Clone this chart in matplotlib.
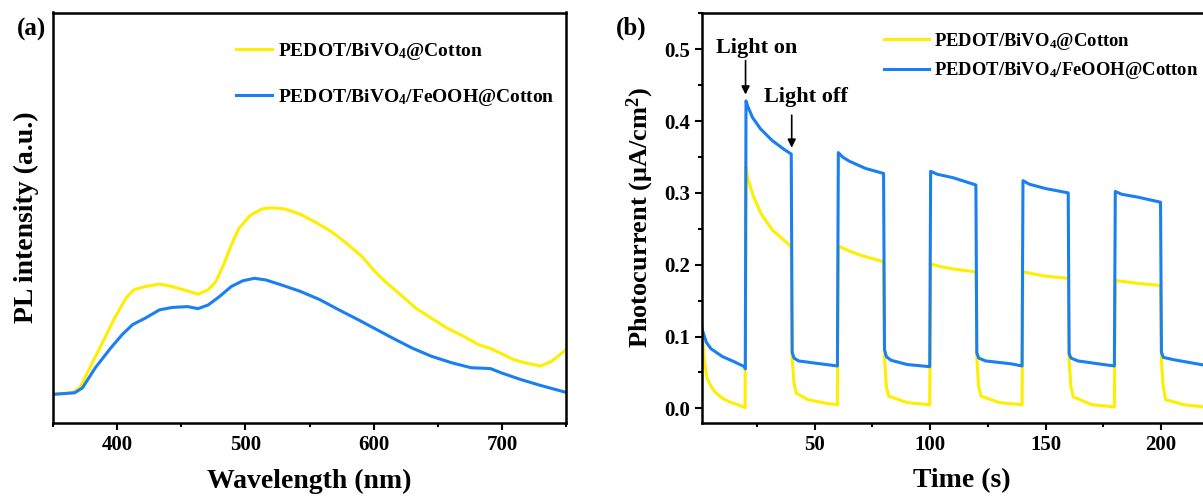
import numpy as np
import matplotlib
matplotlib.use("Agg")
import matplotlib.pyplot as plt
from matplotlib.ticker import MultipleLocator

plt.rcParams['font.family'] = ['Liberation Serif', 'DejaVu Serif']
plt.rcParams['font.weight'] = 'bold'
plt.rcParams['axes.labelweight'] = 'bold'
plt.rcParams['mathtext.fontset'] = 'custom'
plt.rcParams['mathtext.rm'] = 'Liberation Serif:bold'
plt.rcParams['mathtext.it'] = 'Liberation Serif:italic:bold'
plt.rcParams['mathtext.bf'] = 'Liberation Serif:bold'

YELLOW = '#ffee00'
BLUE = '#1a7ff0'

##### (a) PL spectra ##########################################################
wl_yellow = [350, 365, 371, 380, 389, 398, 407, 413, 422, 433, 443, 455, 463,
             471, 477, 483, 489, 495, 504, 513, 520, 531, 543, 555, 567, 579,
             591, 600, 609, 621, 633, 645, 657, 670, 682, 691, 700, 709, 718,
             730, 739, 750]
pl_yellow = [7.0, 7.3, 8.5, 14.2, 19.8, 25.5, 30.4, 32.4, 33.2, 33.8, 33.2,
             32.1, 31.3, 32.4, 34.4, 38.5, 43.3, 47.4, 50.6, 52.1, 52.4, 52.1,
             50.8, 48.8, 46.6, 43.7, 40.5, 37.2, 34.4, 31.2, 27.9, 25.5, 23.1,
             21.1, 19.0, 18.1, 16.8, 15.4, 14.6, 13.8, 15.0, 17.8]

wl_blue = [350, 367, 373, 383, 395, 404, 412, 422, 433, 443, 455, 463, 471,
           480, 489, 498, 507, 516, 528, 543, 558, 573, 588, 600, 615, 630,
           645, 661, 676, 691, 700, 715, 730, 750]
pl_blue = [6.9, 7.3, 8.5, 13.4, 18.2, 21.5, 23.9, 25.5, 27.5, 28.1, 28.3,
           27.8, 28.7, 30.8, 33.2, 34.6, 35.2, 34.8, 33.6, 32.0, 30.0, 27.5,
           25.1, 23.1, 20.6, 18.2, 16.2, 14.6, 13.4, 13.2, 12.1, 10.5, 9.1, 7.4]

##### (b) photocurrent ########################################################
t_yellow = [1.0, 2, 3.3, 5, 6.7, 10, 13, 16.7, 19.8,
            20.2, 21, 23.3, 26.7, 31.7, 36.7, 39.8,
            40.2, 41, 42, 47, 55, 59.8,
            60.2, 65, 70, 79.8,
            80.2, 81, 82, 90, 99.8,
            100.2, 105, 110, 119.8,
            120.2, 121, 122, 130, 139.8,
            140.2, 145, 150, 159.8,
            160.2, 161, 162, 170, 179.8,
            180.2, 185, 190, 199.8,
            200.2, 201, 202, 210, 219]
i_yellow = [0.12, 0.07, 0.042, 0.031, 0.023, 0.014, 0.009, 0.005, 0.001,
            0.336, 0.32, 0.296, 0.271, 0.248, 0.234, 0.225,
            0.07, 0.035, 0.021, 0.012, 0.007, 0.005,
            0.226, 0.219, 0.213, 0.204,
            0.07, 0.03, 0.017, 0.008, 0.005,
            0.201, 0.197, 0.194, 0.190,
            0.07, 0.03, 0.017, 0.008, 0.005,
            0.190, 0.187, 0.184, 0.181,
            0.065, 0.03, 0.016, 0.005, 0.002,
            0.178, 0.176, 0.174, 0.171,
            0.065, 0.03, 0.012, 0.005, 0.002]

t_blue = [1.0, 3, 5, 10, 15, 19.5, 19.9,
          20.2, 21, 23, 26.5, 31.5, 36.5, 39.8,
          40.2, 41, 43, 50, 59.8,
          60.2, 62, 65, 72, 79.8,
          80.2, 81, 83, 90, 99.8,
          100.2, 103, 110, 119.8,
          120.2, 121, 124, 135, 139.8,
          140.2, 143, 150, 159.8,
          160.2, 161, 164, 175, 179.8,
          180.2, 183, 190, 199.8,
          200.2, 201, 205, 212, 219]
i_blue = [0.112, 0.092, 0.083, 0.072, 0.065, 0.058, 0.055,
          0.428, 0.42, 0.405, 0.389, 0.373, 0.361, 0.354,
          0.078, 0.07, 0.066, 0.063, 0.059,
          0.356, 0.35, 0.344, 0.334, 0.327,
          0.082, 0.072, 0.067, 0.061, 0.058,
          0.330, 0.326, 0.321, 0.311,
          0.077, 0.070, 0.066, 0.062, 0.059,
          0.317, 0.312, 0.306, 0.300,
          0.076, 0.070, 0.066, 0.061, 0.059,
          0.302, 0.298, 0.294, 0.287,
          0.078, 0.071, 0.068, 0.064, 0.060]

label_y = 'PEDOT/BiVO$_4$@Cotton'
label_b = 'PEDOT/BiVO$_4$/FeOOH@Cotton'

W, H = 1203, 496
fig = plt.figure(figsize=(W / 100, H / 100), dpi=100)

def px_axes(left, top, right, bottom):
  return fig.add_axes([left / W, 1 - bottom / H, (right - left) / W,
                       (bottom - top) / H])

def style(ax):
  for s in ax.spines.values():
    s.set_linewidth(1.8)
  ax.tick_params(which='both', direction='out', width=1.5, labelsize=15,
                 top=False, right=False)
  ax.tick_params(which='major', length=5)
  ax.tick_params(which='minor', length=3)

# ---- panel (a)
ax1 = px_axes(53, 12.5, 566, 422.7)
ax1.plot(wl_yellow, pl_yellow, color=YELLOW, lw=2.2, label=label_y)
ax1.plot(wl_blue, pl_blue, color=BLUE, lw=2.2, label=label_b)
ax1.set_xlim(350, 750)
ax1.set_ylim(0, 100)
ax1.set_yticks([])
ax1.xaxis.set_major_locator(MultipleLocator(100))
ax1.xaxis.set_minor_locator(MultipleLocator(50))
style(ax1)
ax1.set_xlabel('Wavelength (nm)', fontsize=20, labelpad=10)
ax1.set_ylabel('PL intensity (a.u.)', fontsize=20, labelpad=10)
ax1.legend(loc='upper left', bbox_to_anchor=(236 / W, 1 - 41 / H),
           bbox_transform=fig.transFigure, frameon=False, fontsize=14,
           borderpad=0, borderaxespad=0, handlelength=1.85,
           handletextpad=0.3, labelspacing=1.3)
fig.text(32 / W, 1 - 29 / H, '(a)', fontsize=18, fontweight='bold',
         ha='center', va='center')

# ---- panel (b), right side is cut off by the figure edge as in the source
ax2 = px_axes(701.7, 13.3, 1221, 422.7)
ax2.plot(t_yellow, i_yellow, color=YELLOW, lw=2.2, label=label_y)
ax2.plot(t_blue, i_blue, color=BLUE, lw=2.2, label=label_b)
ax2.set_xlim(1, 226)
ax2.set_ylim(-0.02, 0.55)
ax2.xaxis.set_major_locator(MultipleLocator(50))
ax2.xaxis.set_minor_locator(MultipleLocator(25))
ax2.yaxis.set_major_locator(MultipleLocator(0.1))
ax2.yaxis.set_minor_locator(MultipleLocator(0.05))
ax2.yaxis.set_major_formatter(plt.FuncFormatter(lambda v, p: '%.1f' % v))
ax2.set_xticks([50, 100, 150, 200])
style(ax2)
ax2.set_xlabel('Time (s)', fontsize=20, labelpad=10)
ax2.set_ylabel('Photocurrent (\u03bcA/cm$^2$)', fontsize=19, labelpad=6)
ax2.legend(loc='upper left', bbox_to_anchor=(884 / W, 1 - 31 / H),
           bbox_transform=fig.transFigure, frameon=False, fontsize=13.4,
           borderpad=0, borderaxespad=0, handlelength=2.4,
           handletextpad=0.3, labelspacing=0.45)
fig.text(631 / W, 1 - 28 / H, '(b)', fontsize=18, fontweight='bold',
         ha='center', va='center')

ax2.text(25, 0.502, 'Light on', fontsize=16, fontweight='bold',
         ha='center', va='center')
ax2.annotate('', xy=(20, 0.433), xytext=(20, 0.488),
             arrowprops=dict(arrowstyle='-|>', color='black', lw=1.2,
                             mutation_scale=12))
ax2.text(46, 0.433, 'Light off', fontsize=16, fontweight='bold',
         ha='center', va='center')
ax2.annotate('', xy=(40, 0.359), xytext=(40, 0.412),
             arrowprops=dict(arrowstyle='-|>', color='black', lw=1.2,
                             mutation_scale=12))

fig.savefig('out.png', dpi=100)
